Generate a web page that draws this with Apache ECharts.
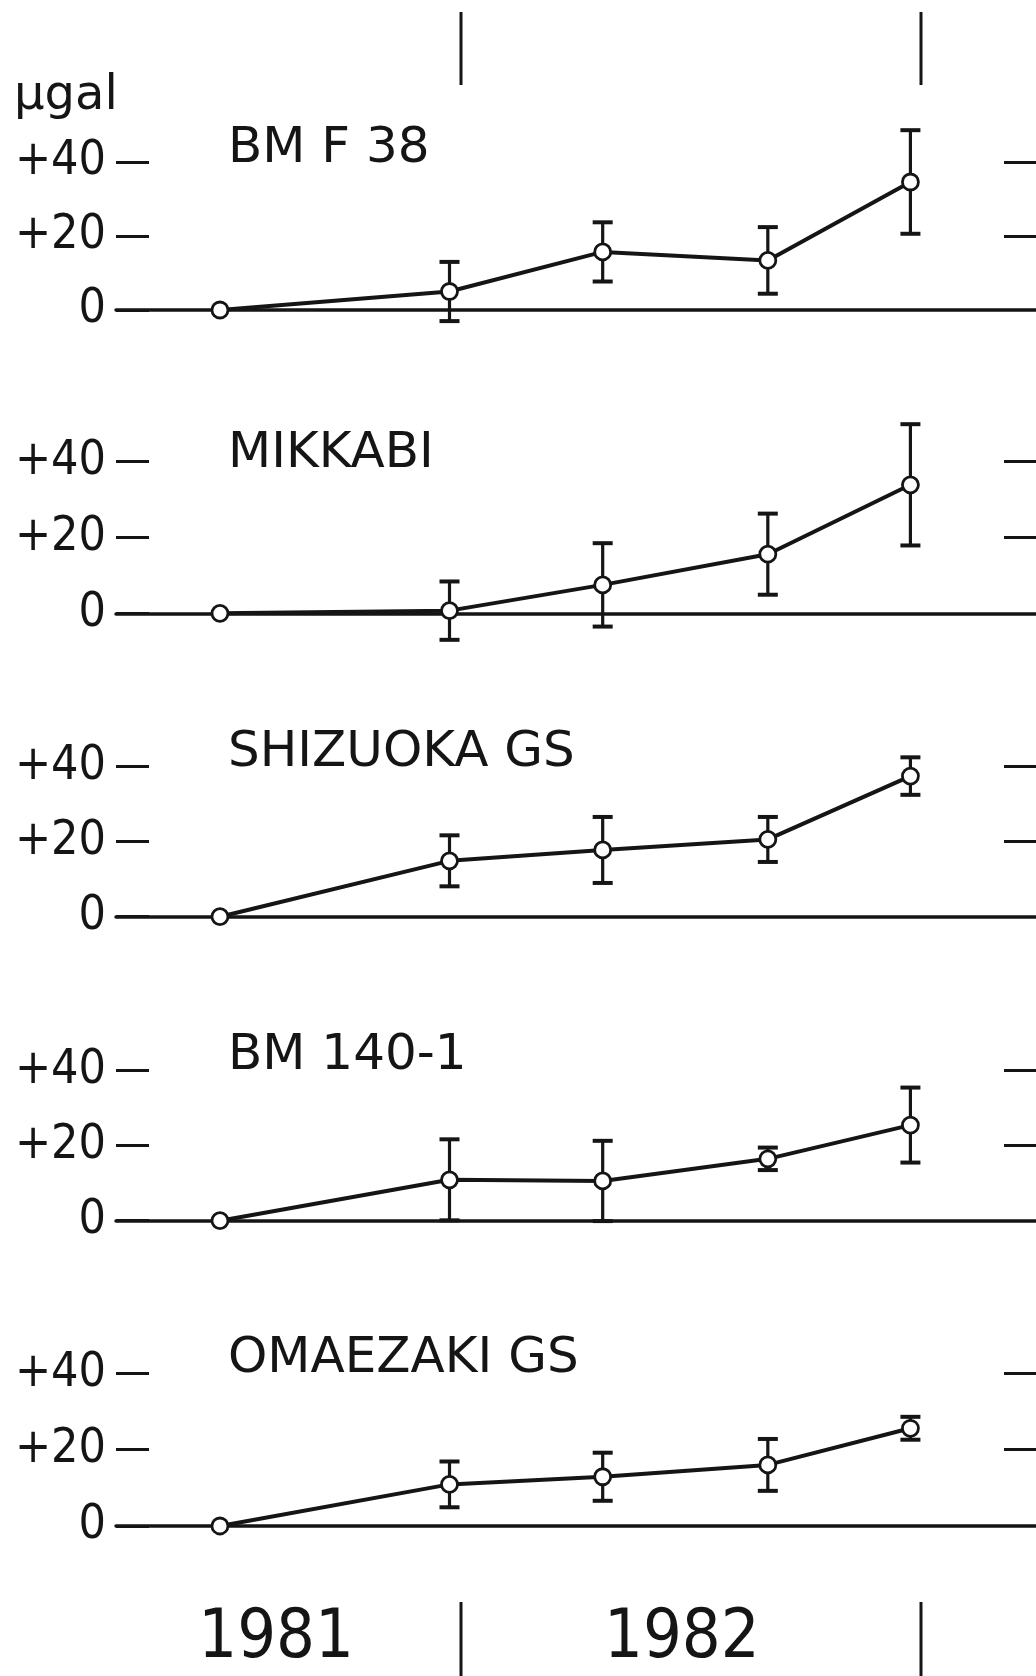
<!DOCTYPE html>
<html>
<head>
<meta charset="utf-8">
<script src="https://cdn.jsdelivr.net/npm/echarts@6/dist/echarts.min.js"></script>
<style>
  html, body { margin: 0; padding: 0; background: #ffffff; }
  #chart { width: 1036px; height: 1676px; }
</style>
</head>
<body>
<div id="chart"></div>
<script>
// ---- data (decimal years, microgal) ----
const stations = ['BM F 38', 'MIKKABI', 'SHIZUOKA GS', 'BM 140-1', 'OMAEZAKI GS'];
const epochs = [1981.476, 1981.975, 1982.308, 1982.667, 1982.977];

const bmF38Values    = [0, 5.0, 15.7, 13.4, 34.6];
const bmF38Errors    = [0, 8.0, 8.0, 9.0, 14.0];
const mikkabiValues  = [0, 0.7, 7.5, 15.6, 33.9];
const mikkabiErrors  = [0, 7.7, 11.0, 10.7, 16.0];
const shizuokaValues = [0, 14.9, 17.8, 20.6, 37.5];
const shizuokaErrors = [0, 6.8, 8.8, 6.0, 5.0];
const bm140Values    = [0, 10.9, 10.6, 16.5, 25.5];
const bm140Errors    = [0, 10.8, 10.7, 3.0, 10.0];
const omaezakiValues = [0, 10.9, 12.9, 16.0, 25.6];
const omaezakiErrors = [0, 6.0, 6.3, 6.8, 3.0];

const yTickValues = [0, 20, 40];
const rightTickValues = [20, 40];
const yearBoundaries = [1982, 1983];
const yearLabels = ['1981', '1982'];
const yearLabelPositions = [1981.598, 1982.48];
const unitLabel = 'µgal';

// ---- layout ----
const INK = '#151515';
const FONT_C = '"DejaVu Sans Condensed", "DejaVu Sans", sans-serif';
const FONT = '"DejaVu Sans", sans-serif';
const X_MIN = 1981.25, X_MAX = 1983.25;
const LEFT = 116, WIDTH = 920;
const panels = [
  { top: 88,    height: 296,   values: bmF38Values,    errors: bmF38Errors,    titleTop: 119 },
  { top: 385.9, height: 303.2, values: mikkabiValues,  errors: mikkabiErrors,  titleTop: 424 },
  { top: 691.7, height: 300,   values: shizuokaValues, errors: shizuokaErrors, titleTop: 723 },
  { top: 995.7, height: 300,   values: bm140Values,    errors: bm140Errors,    titleTop: 1026 },
  { top: 1297,  height: 305.3, values: omaezakiValues, errors: omaezakiErrors, titleTop: 1329 }
];

const grids = [], xAxes = [], yAxes = [], series = [], titles = [];

panels.forEach((p, i) => {
  grids.push({ left: LEFT, width: WIDTH, top: p.top, height: p.height, containLabel: false });
  xAxes.push({
    type: 'value', gridIndex: i, min: X_MIN, max: X_MAX,
    axisLine: { show: true, onZero: true, lineStyle: { color: INK, width: 3.5 } },
    axisTick: { show: false }, axisLabel: { show: false }, splitLine: { show: false }
  });
  // left y axis
  yAxes.push({
    type: 'value', gridIndex: i, min: -20, max: 60, position: 'left',
    axisLine: { show: false },
    axisTick: { show: true, inside: true, length: 33, customValues: yTickValues,
                lineStyle: { color: INK, width: 3 } },
    axisLabel: { show: true, margin: 10, customValues: yTickValues,
                 formatter: v => (v > 0 ? '+' + v : String(v)),
                 color: INK, fontSize: 48, fontFamily: FONT_C },
    splitLine: { show: false }
  });
  // right y axis (ticks only)
  yAxes.push({
    type: 'value', gridIndex: i, min: -20, max: 60, position: 'right',
    axisLine: { show: false },
    axisTick: { show: true, inside: true, length: 32, customValues: rightTickValues,
                lineStyle: { color: INK, width: 3 } },
    axisLabel: { show: false },
    splitLine: { show: false }
  });
  const yIdx = yAxes.length - 2;

  // error bars
  series.push({
    type: 'custom', xAxisIndex: i, yAxisIndex: yIdx, z: 2,
    data: epochs.map((t, k) => [t, p.values[k] - p.errors[k], p.values[k] + p.errors[k]]),
    renderItem: function (params, api) {
      const x = api.value(0), lo = api.value(1), hi = api.value(2);
      if (hi - lo <= 0) return null;
      const top = api.coord([x, hi]);
      const bot = api.coord([x, lo]);
      const hw = 10;
      return {
        type: 'group',
        children: [
          { type: 'line', shape: { x1: top[0], y1: top[1], x2: bot[0], y2: bot[1] },
            style: { stroke: INK, lineWidth: 3.2 } },
          { type: 'line', shape: { x1: top[0] - hw, y1: top[1], x2: top[0] + hw, y2: top[1] },
            style: { stroke: INK, lineWidth: 4 } },
          { type: 'line', shape: { x1: bot[0] - hw, y1: bot[1], x2: bot[0] + hw, y2: bot[1] },
            style: { stroke: INK, lineWidth: 4 } }
        ]
      };
    }
  });
  // line with open circles
  series.push({
    type: 'line', name: stations[i], xAxisIndex: i, yAxisIndex: yIdx, z: 5,
    data: epochs.map((t, k) => [t, p.values[k]]),
    symbol: 'circle', symbolSize: 16, showSymbol: true,
    lineStyle: { color: INK, width: 4 },
    itemStyle: { color: '#ffffff', borderColor: INK, borderWidth: 2.8 },
    emphasis: { disabled: true }, animation: false
  });
  titles.push({
    text: stations[i], left: 223, top: p.titleTop,
    textStyle: { color: INK, fontSize: 50, fontWeight: 'normal', fontFamily: FONT }
  });
});

// unit label
titles.push({
  text: unitLabel, left: 9, top: 68,
  textStyle: { color: INK, fontSize: 48, fontWeight: 'normal', fontFamily: FONT }
});

// top and bottom strips for year boundaries and year labels
const strips = [{ top: 12, height: 73 }, { top: 1602, height: 74 }];
strips.forEach((s, j) => {
  const gi = grids.length;
  grids.push({ left: LEFT, width: WIDTH, top: s.top, height: s.height });
  xAxes.push({ type: 'value', gridIndex: gi, min: X_MIN, max: X_MAX, show: false });
  yAxes.push({ type: 'value', gridIndex: gi, min: 0, max: 1, show: false });
  const yi = yAxes.length - 1;
  series.push({
    type: 'custom', xAxisIndex: gi, yAxisIndex: yi,
    data: yearBoundaries.map(b => [b]),
    renderItem: function (params, api) {
      const a = api.coord([api.value(0), 1]);
      const b = api.coord([api.value(0), 0]);
      return { type: 'line', shape: { x1: a[0], y1: a[1], x2: b[0], y2: b[1] },
               style: { stroke: INK, lineWidth: 3 } };
    }
  });
  if (j === 1) {
    series.push({
      type: 'custom', xAxisIndex: gi, yAxisIndex: yi, clip: false,
      data: yearLabelPositions.map((x, k) => [x, 0.5, k]),
      renderItem: function (params, api) {
        const c = api.coord([api.value(0), api.value(1)]);
        return {
          type: 'text',
          x: c[0], y: c[1],
          style: {
            text: yearLabels[api.value(2)],
            fill: INK, fontSize: 68, fontFamily: FONT_C,
            align: 'center', verticalAlign: 'middle'
          }
        };
      }
    });
  }
});

const chart = echarts.init(document.getElementById('chart'), null, { renderer: 'canvas' });
chart.setOption({
  backgroundColor: '#ffffff',
  animation: false,
  title: titles,
  grid: grids,
  xAxis: xAxes,
  yAxis: yAxes,
  series: series
});
</script>
</body>
</html>
